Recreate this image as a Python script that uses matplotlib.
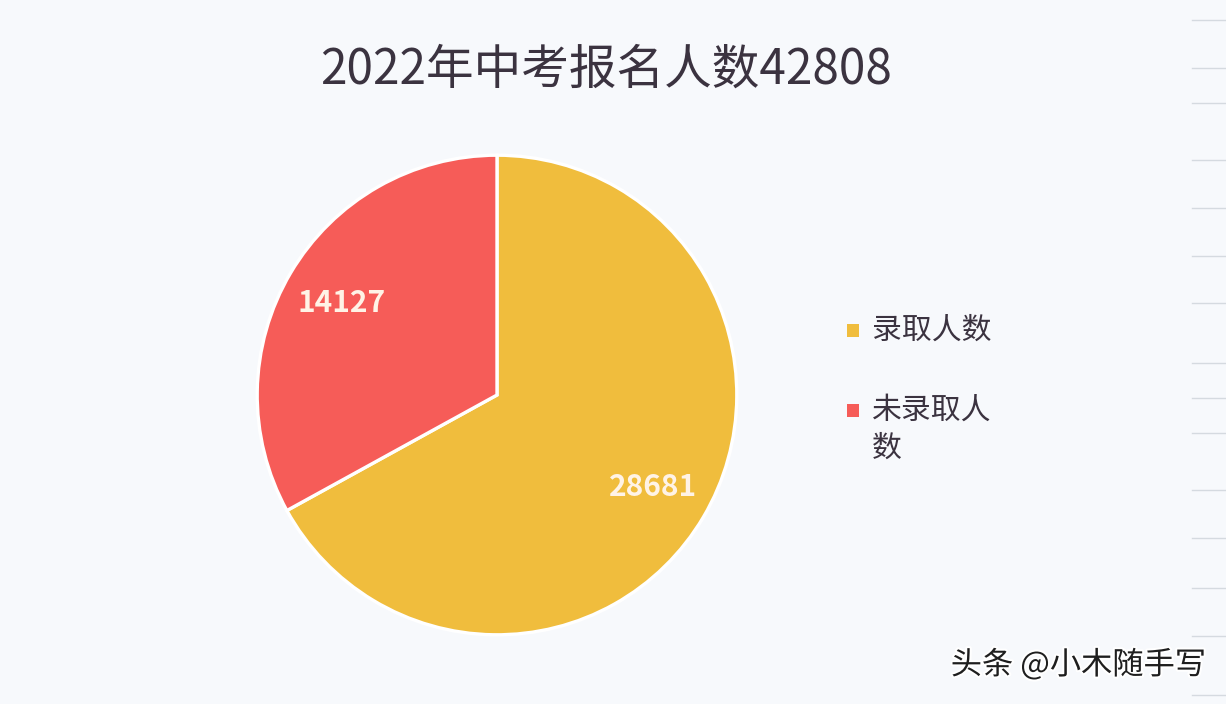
import matplotlib
matplotlib.use("Agg")
import matplotlib.pyplot as plt
from matplotlib.patches import Rectangle
import matplotlib.patheffects as pe

plt.rcParams['font.family'] = ['Noto Sans CJK SC', 'DejaVu Sans']

title = "2022年中考报名人数42808"
categories = ["录取人数", "未录取人数"]
legend_lines = [["录取人数"], ["未录取人", "数"]]
values = [28681, 14127]
colors = ["#F0BD3D", "#F65C58"]
watermark = "头条 @小木随手写"

W, H = 1226, 704
bg = "#F7F9FC"
fig = plt.figure(figsize=(W / 100, H / 100), dpi=100, facecolor=bg)

# pie axes: center (497,395) px, radius 240 px
cx, cy, r = 497, 395, 241
ax = fig.add_axes([(cx - r) / W, (H - cy - r) / H, 2 * r / W, 2 * r / H])
ax.set_facecolor(bg)
wedges, texts = ax.pie(values, colors=colors, startangle=90, counterclock=False,
                       labels=[str(v) for v in values], labeldistance=0.755,
                       wedgeprops=dict(edgecolor="white", linewidth=2.4),
                       textprops=dict(color="#FFF3E6", fontsize=21.5, fontweight="bold"),
                       radius=1.0)
for t in texts:
    t.set_ha("center")
    t.set_va("center")
ax.set_xlim(-1.005, 1.005)
ax.set_ylim(-1.005, 1.005)
ax.set_aspect("equal")
ax.axis("off")

fig.text(606 / W, 1 - 70 / H, title, ha="center", va="center", fontsize=34.3,
         color="#3B3340")

# legend
leg_y = [330, 410]
for lines, col, y in zip(legend_lines, colors, leg_y):
    sq = 13
    fig.patches.append(Rectangle(((853 - sq / 2) / W, 1 - (y + sq / 2) / H), sq / W, sq / H,
                                 transform=fig.transFigure, facecolor=col, edgecolor="none"))
    for i, ln in enumerate(lines):
        fig.text(872 / W, 1 - (y + i * 38) / H, ln, ha="left", va="center",
                 fontsize=21.5, color="#3B3340")

# right margin lines
line_ys = [20, 68, 103, 160, 208, 256, 303, 363, 398, 433, 490, 538, 588, 636, 695]
for y in line_ys:
    fig.add_artist(plt.Line2D([1192 / W, 1.0], [1 - y / H, 1 - y / H],
                              transform=fig.transFigure, color="#D5DAE0", linewidth=1))

fig.text(1206 / W, 1 - 665 / H, watermark, ha="right", va="center", fontsize=22.5,
         color="#1E1E1E",
         path_effects=[pe.withStroke(linewidth=3, foreground="white")])

fig.savefig("out.png", dpi=100, facecolor=bg)
